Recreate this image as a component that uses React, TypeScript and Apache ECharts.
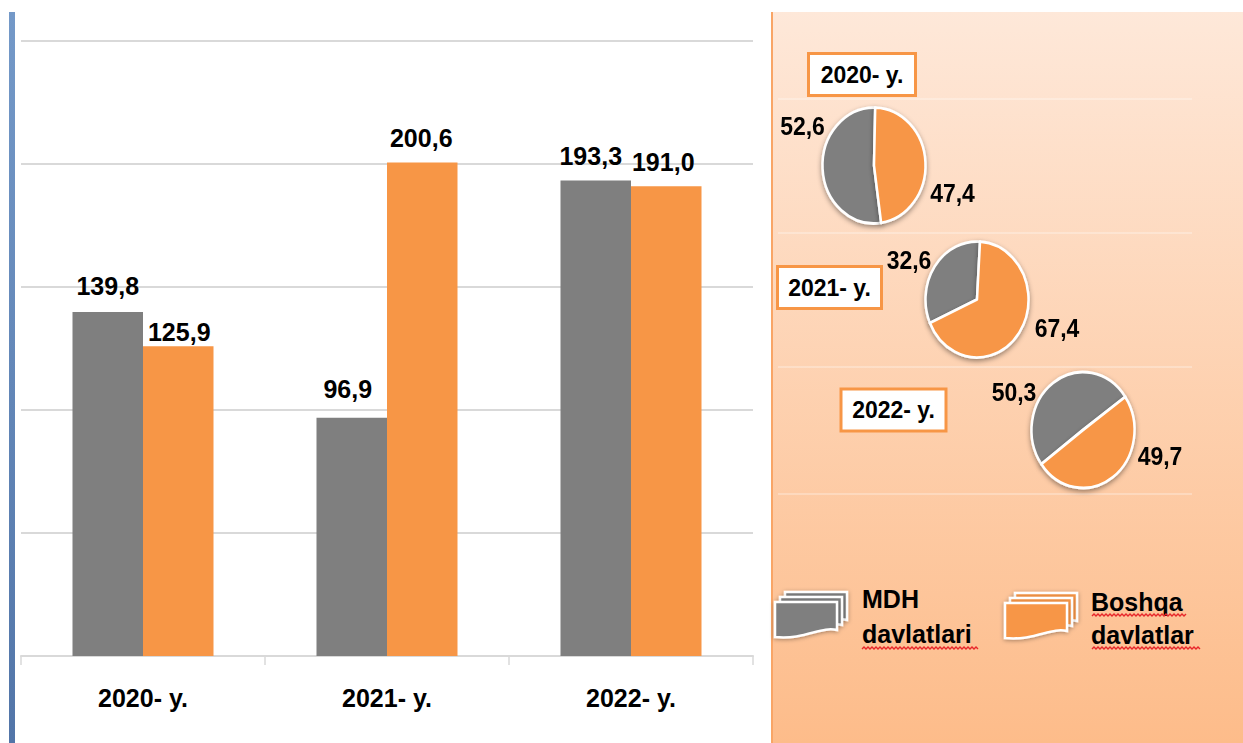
import React, { useEffect, useRef } from "react";
import * as echarts from "echarts";

const years = ["2020- y.", "2021- y.", "2022- y."];
const seriesNames = ["MDH davlatlari", "Boshqa davlatlar"];
const mdhValues = [139.8, 96.9, 193.3];
const otherValues = [125.9, 200.6, 191.0];
const mdhShares = [52.6, 32.6, 50.3];
const otherShares = [47.4, 67.4, 49.7];
const yTicks = { min: 0, max: 250, interval: 50 };

const GRAY = "#7f7f7f";
const ORANGE = "#f79646";
const FONT = '"Liberation Sans", Arial, sans-serif';
const PIE_STRETCH = 1.125;

// label nudges (px) relative to the default "top" bar label
const mdhLabelNudge = [[0, -10], [-4, -12], [-5, -8]];
const otherLabelNudge = [[1, 2], [-1, -8], [-3, -8]];

// pie layout: centre in page px, start angle of first (grey) slice
const pieLayout = [
  { cx: 874, cy: 165.5, start: 278 },
  { cx: 977, cy: 299.5, start: 204 },
  { cx: 1083, cy: 430, start: 216 },
];
const pieLabelPos = [
  [[802.5, 126], [952.5, 193]],
  [[909, 260], [1057, 328]],
  [[1014, 392], [1160, 456]],
];

const comma = (v: number) => v.toFixed(1).replace(".", ",");

echarts.graphic.registerShape(
  "legendSheet",
  echarts.graphic.extendPath("M0 0H62V28C46 24 30 38 0 35Z", {})
);

function zigzag(x0: number, x1: number, y: number) {
  const pts: number[][] = [];
  let up = false;
  for (let x = x0; x <= x1; x += 2) {
    pts.push([x, up ? y - 1 : y + 1]);
    up = !up;
  }
  return {
    type: "polyline",
    shape: { points: pts },
    style: { stroke: "#e8262a", lineWidth: 1.4, fill: "none" },
    silent: true,
  };
}

function yearBox(x: number, y: number, w: number, h: number, text: string) {
  return {
    type: "rect",
    shape: { x, y, width: w, height: h },
    style: {
      fill: "#ffffff",
      stroke: "#f79646",
      lineWidth: 3,
    },
    textContent: {
      style: {
        text,
        fill: "#000",
        font: `bold 23px ${FONT}`,
      },
    },
    textConfig: { position: "inside" },
    silent: true,
  };
}

function sheets(x: number, y: number, color: string) {
  const one = (dx: number, dy: number) => ({
    type: "legendSheet",
    x: x + dx,
    y: y + dy,
    style: {
      fill: color,
      stroke: "#ffffff",
      lineWidth: 2.5,
      shadowBlur: 4,
      shadowColor: "rgba(0,0,0,0.35)",
      shadowOffsetY: 1,
    },
    silent: true,
  });
  return [one(10, -10), one(5, -5), one(0, 0)];
}

function legendText(x: number, y: number, text: string) {
  return {
    type: "text",
    x,
    y,
    style: {
      text,
      fill: "#000",
      font: `bold 25px ${FONT}`,
      textVerticalAlign: "middle",
      verticalAlign: "middle",
    },
    silent: true,
  };
}

export default function App() {
  const mainRef = useRef<HTMLDivElement>(null);
  const pieRef = useRef<HTMLDivElement>(null);

  useEffect(() => {
    const main = echarts.init(mainRef.current!, null, { renderer: "svg" });
    const pies = echarts.init(pieRef.current!, null, { renderer: "svg" });

    const barLabel = { show: true, position: "top", color: "#000", fontFamily: FONT, fontWeight: "bold", fontSize: 25, distance: 4, formatter: (p: any) => comma(p.value) };

    const panelLines = [99, 233, 367, 494].map((y) => ({
      type: "line",
      shape: { x1: 778, y1: y, x2: 1192, y2: y },
      style: { stroke: "rgba(255,255,255,0.38)", lineWidth: 1.5 },
      silent: true,
    }));

    main.setOption({
      animation: false,
      backgroundColor: "#ffffff",
      grid: { left: 21, right: 490, top: 41, bottom: 87 },
      xAxis: {
        type: "category",
        data: years,
        axisLine: { lineStyle: { color: "#d9d9d9", width: 2 } },
        axisTick: { show: true, length: 9, lineStyle: { color: "#d9d9d9", width: 1.5 } },
        axisLabel: { color: "#000", fontFamily: FONT, fontWeight: "bold", fontSize: 25, margin: 29 },
      },
      yAxis: {
        type: "value",
        ...yTicks,
        axisLabel: { show: false },
        axisLine: { show: false },
        axisTick: { show: false },
        splitLine: { lineStyle: { color: "#d9d9d9", width: 2 } },
      },
      series: [
        {
          name: seriesNames[0],
          type: "bar",
          barWidth: 70.5,
          barGap: 0,
          itemStyle: { color: GRAY },
          data: mdhValues.map((value, i) => ({ value, label: { offset: mdhLabelNudge[i] } })),
          label: barLabel,
          silent: true,
        },
        {
          name: seriesNames[1],
          type: "bar",
          barWidth: 70.5,
          barGap: 0,
          itemStyle: { color: ORANGE },
          data: otherValues.map((value, i) => ({ value, label: { offset: otherLabelNudge[i] } })),
          label: barLabel,
          silent: true,
        },
      ],
      graphic: [
        {
          type: "rect",
          shape: { x: 9, y: 12, width: 6, height: 731 },
          style: {
            fill: new echarts.graphic.LinearGradient(0, 0, 0, 1, [
              { offset: 0, color: "#7499c8" },
              { offset: 1, color: "#5275a8" },
            ]),
          },
          silent: true,
        },
        {
          type: "rect",
          shape: { x: 772, y: 12, width: 471, height: 731 },
          style: {
            fill: new echarts.graphic.LinearGradient(0, 0, 0, 1, [
              { offset: 0, color: "#fee8d9" },
              { offset: 1, color: "#fdbc8a" },
            ]),
          },
          silent: true,
        },
        {
          type: "line",
          shape: { x1: 772, y1: 12, x2: 772, y2: 743 },
          style: { stroke: "#f9a566", lineWidth: 2 },
          silent: true,
        },
        ...panelLines,
        yearBox(808.5, 53.5, 107, 42, years[0]),
        yearBox(777.5, 266.5, 104, 42, years[1]),
        yearBox(841, 389, 105, 42, years[2]),
        ...sheets(775, 602, GRAY),
        ...sheets(1005, 603, ORANGE),
        legendText(862, 599, "MDH"),
        legendText(862, 634, "davlatlari"),
        legendText(1091, 602, "Boshqa"),
        legendText(1091, 635, "davlatlar"),
        zigzag(862, 978, 648),
        zigzag(1092, 1187, 615),
        zigzag(1092, 1200, 648),
      ],
    });

    pies.setOption({
      animation: false,
      backgroundColor: "transparent",
      series: pieLayout.map((p, i) => ({
        type: "pie",
        silent: true,
        clockwise: true,
        radius: [0, 51.5],
        center: [p.cx, p.cy / PIE_STRETCH],
        startAngle: p.start,
        itemStyle: {
          borderColor: "#ffffff",
          borderWidth: 2.5,
          shadowBlur: 5,
          shadowOffsetY: 2,
          shadowColor: "rgba(0,0,0,0.4)",
        },
        label: {
          show: true,
          position: "outside",
          color: "#000",
          fontFamily: FONT,
          fontWeight: "bold",
          fontSize: 23,
          formatter: (d: any) => comma(d.value),
        },
        labelLine: { show: false },
        labelLayout: (params: any) => {
          const [x, y] = pieLabelPos[i][params.dataIndex];
          return { x, y: y / PIE_STRETCH, align: "center", verticalAlign: "middle" };
        },
        data: [
          { name: seriesNames[0], value: mdhShares[i], itemStyle: { color: GRAY } },
          { name: seriesNames[1], value: otherShares[i], itemStyle: { color: ORANGE } },
        ],
      })),
    });

    return () => {
      main.dispose();
      pies.dispose();
    };
  }, []);

  return (
    <div style={{ position: "fixed", left: 0, top: 0, width: 1243, height: 743, overflow: "hidden", background: "#fff" }}>
      <div ref={mainRef} style={{ position: "absolute", left: 0, top: 0, width: 1243, height: 743 }} />
      <div
        ref={pieRef}
        style={{
          position: "absolute",
          left: 0,
          top: 0,
          width: 1243,
          height: 743 / PIE_STRETCH,
          transform: `scaleY(${PIE_STRETCH})`,
          transformOrigin: "top left",
        }}
      />
    </div>
  );
}
